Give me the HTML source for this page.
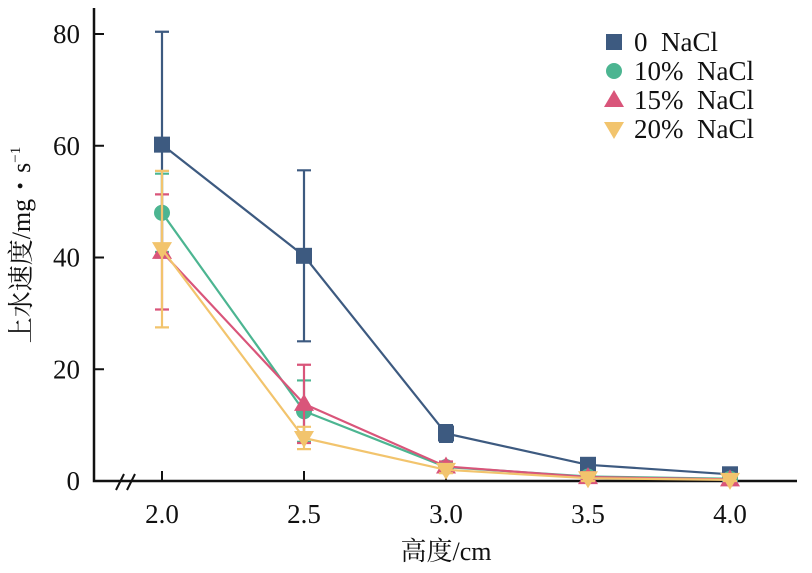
<!DOCTYPE html>
<html><head><meta charset="utf-8"><style>
body{margin:0;background:#fff}
svg text{font-family:"Liberation Serif","Noto Serif CJK SC",serif;fill:#111;white-space:pre}
</style></head><body>
<svg id="chart" width="812" height="568" xmlns="http://www.w3.org/2000/svg">
<g id="axes"></g><g id="series"></g><g id="legend"></g>
</svg>
<script>
const xs=[2.0,2.5,3.0,3.5,4.0];
const xTicks=["2.0","2.5","3.0","3.5","4.0"];
const yTicks=[0,20,40,60,80];
const names=["0\u00a0\u00a0NaCl","10%\u00a0\u00a0NaCl","15%\u00a0\u00a0NaCl","20%\u00a0\u00a0NaCl"];
const colors=["#3d5a80","#4cb591","#d9557a","#f2c46d"];
const v0=[60.2,40.3,8.5,2.9,1.2];
const e0=[20.2,15.3,1.5,0.4,0.3];
const v10=[48,12.5,2.5,0.8,0.4];
const e10=[7,5.5,0.6,0.3,0.2];
const v15=[41,13.8,2.6,0.7,0.3];
const e15=[10.3,7,0.9,0.9,0.9];
const v20=[41.5,7.7,2.0,0.5,0.2];
const e20=[14,2,0.6,0.5,0.4];
const vals=[v0,v10,v15,v20], errs=[e0,e10,e15,e20];
const X=v=>162+(v-2)*284, Y=v=>481-v*5.5875;
const NS="http://www.w3.org/2000/svg";
function mk(p,t,a){const e=document.createElementNS(NS,t);for(const k in a)e.setAttribute(k,a[k]);p.appendChild(e);return e;}
const ax=document.getElementById('axes');
let l=mk(ax,'path',{d:'M94,8 V481 H797',fill:'none',stroke:'#111','stroke-width':2.5});


let br=mk(ax,'path',{d:'M116,490 L124,474 M127,490 L135,474',stroke:'#111','stroke-width':2,fill:'none'});


yTicks.forEach(t=>{
 mk(ax,'line',{x1:94,x2:104,y1:Y(t),y2:Y(t),stroke:'#111','stroke-width':2});
 const tx=mk(ax,'text',{x:80,y:Y(t)+9,'text-anchor':'end','font-size':27});tx.textContent=t;
 
 
});
xs.forEach((x,i)=>{
 mk(ax,'line',{x1:X(x),x2:X(x),y1:481,y2:471,stroke:'#111','stroke-width':2});
 const tx=mk(ax,'text',{x:X(x),y:523,'text-anchor':'middle','font-size':27});tx.textContent=xTicks[i];
 
 
});
let xt=mk(ax,'text',{x:446,y:560,'text-anchor':'middle','font-size':26});xt.textContent='高度/cm';


let yt=mk(ax,'text',{x:0,y:0,'text-anchor':'middle','font-size':26,transform:'translate(30,245) rotate(-90)'});
yt.innerHTML='上水速度/mg・s<tspan font-size="15" dy="-10">−1</tspan>';


function marker(g,k,cx,cy,c){
 if(k==0)return mk(g,'rect',{x:cx-8,y:cy-8,width:16,height:16,fill:c});
 if(k==1)return mk(g,'circle',{cx,cy,r:8,fill:c});
 if(k==2)return mk(g,'path',{d:`M${cx},${cy-10} L${cx+10},${cy+7} L${cx-10},${cy+7}Z`,fill:c});
 return mk(g,'path',{d:`M${cx},${cy+10} L${cx+10},${cy-7} L${cx-10},${cy-7}Z`,fill:c});
}
const sg=document.getElementById('series');
vals.forEach((v,k)=>{
 const g=mk(sg,'g',{});
 
 
 const c=colors[k];
 mk(g,'polyline',{points:xs.map((x,i)=>X(x)+','+Y(v[i])).join(' '),fill:'none',stroke:c,'stroke-width':2.2});
 xs.forEach((x,i)=>{
  const t=Y(v[i]+errs[k][i]),b=Y(Math.max(0,v[i]-errs[k][i]));
  mk(g,'path',{d:`M${X(x)},${t}V${b}M${X(x)-7},${t}H${X(x)+7}M${X(x)-7},${b}H${X(x)+7}`,stroke:c,'stroke-width':2.2,fill:'none'});
  const m=marker(g,k,X(x),Y(v[i]),c);
  
  
 });
});
const lg=document.getElementById('legend');
names.forEach((n,k)=>{
 const cy=42+k*29;
 marker(lg,k,614,cy,colors[k]);
 const t=mk(lg,'text',{x:634,y:cy+9,'font-size':27});t.textContent=n;
 
 
});
</script>
</body></html>
